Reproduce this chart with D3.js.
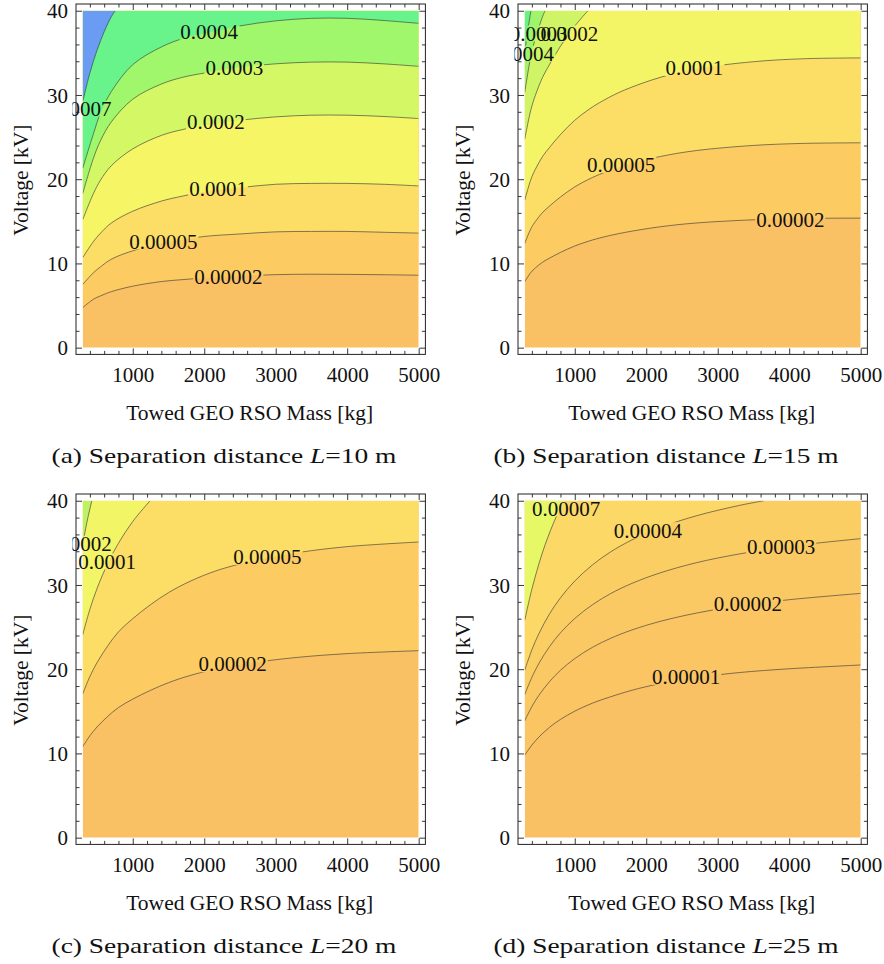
<!DOCTYPE html>
<html><head><meta charset="utf-8">
<script src="https://cdn.jsdelivr.net/npm/d3@7/dist/d3.min.js"></script>
<style>
body{margin:0;background:#fff}
text{font-family:"Liberation Serif","Times New Roman",serif;fill:#111}
</style>
</head><body>
<svg id="c" width="884" height="964"></svg>
<script>
// ---------- data ----------
const massDomain = [300, 5000];
const voltDomain = [0, 40];
const massTicks = [1000, 2000, 3000, 4000, 5000];
const voltTicks = [0, 10, 20, 30, 40];
const xTitle = "Towed GEO RSO Mass [kg]";
const yTitle = "Voltage [kV]";
const captionLetters = ["a", "b", "c", "d"];
const separations = [10, 15, 20, 25];

// Panel (a) L = 10 m : contour lines [mass, voltage]
const levelsA = ["0.00002","0.00005","0.0001","0.0002","0.0003","0.0004","0.0007"];
const linesA = [
  [[300,4.75],[450,5.75],[550,6.15],[700,6.65],[1000,7.3],[1400,7.85],[1700,8.08],[2000,8.27],[2500,8.5],[3000,8.67],[3500,8.72],[4000,8.7],[4500,8.66],[5000,8.6]],
  [[300,7.5],[450,8.9],[550,9.6],[700,10.5],[1000,11.5],[1400,12.4],[1700,12.8],[2000,13.2],[2500,13.5],[3000,13.75],[3500,13.8],[4000,13.8],[4500,13.7],[5000,13.6]],
  [[300,10.7],[450,12.6],[550,13.6],[700,14.8],[1000,16.2],[1400,17.4],[1700,18.0],[2000,18.5],[2500,19.0],[3000,19.4],[3500,19.5],[4000,19.5],[4500,19.4],[5000,19.2]],
  [[300,15.2],[450,18.3],[550,19.9],[700,21.6],[1000,23.6],[1400,25.2],[1700,25.9],[2000,26.4],[2500,27.0],[3000,27.4],[3500,27.6],[4000,27.6],[4500,27.45],[5000,27.2]],
  [[300,18.3],[450,22.5],[550,24.6],[700,26.8],[1000,29.5],[1400,31.3],[1700,32.1],[2000,32.6],[2500,33.3],[3000,33.7],[3500,33.9],[4000,33.9],[4500,33.7],[5000,33.4]],
  [[300,21.3],[450,25.4],[550,27.9],[700,30.4],[1000,33.6],[1400,35.7],[1700,36.7],[2000,37.3],[2500,38.2],[3000,38.8],[3500,39.1],[4000,39.1],[4500,38.85],[5000,38.5]],
  [[300,29.2],[400,32.6],[500,35.3],[600,37.5],[700,39.3],[755,40]]
];
const colorsA = ["#FAC064","#FCCC63","#FCDE66","#F5F566","#D4F766","#A0F76B","#68F48A","#6A9CF3"];
const labelsA = [["0.0007",298,28.4],["0.0004",2070,37.5],["0.0003",2420,33.2],["0.0002",2163,26.8],["0.0001",2193,18.9],["0.00005",1428,12.6],["0.00002",2337,8.43]];

// Panel (b) L = 15 m
const levelsB = ["0.00002","0.00005","0.0001","0.0002","0.0003","0.0004"];
const linesB = [
  [[300,7.83],[387,8.94],[450,9.48],[550,10.15],[650,10.64],[800,11.31],[1000,12.07],[1200,12.66],[1400,13.13],[1700,13.68],[2200,14.36],[2700,14.8],[3500,15.18],[4200,15.34],[5000,15.38]],
  [[300,12.37],[387,14.14],[450,14.99],[550,16.05],[650,16.83],[800,17.89],[1000,19.09],[1200,20.01],[1400,20.75],[1700,21.64],[2200,22.7],[2700,23.4],[3500,24.01],[4200,24.25],[5000,24.32]],
  [[300,17.5],[387,20.0],[450,21.2],[550,22.7],[650,23.8],[800,25.3],[1000,27.0],[1200,28.3],[1400,29.35],[1700,30.6],[2200,32.1],[2700,33.1],[3500,33.95],[4200,34.3],[5000,34.4]],
  [[300,24.75],[387,28.28],[450,29.98],[550,32.1],[650,33.66],[800,35.78],[1000,38.18],[1184,40]],
  [[300,30.31],[387,34.64],[450,36.72],[550,39.32],[585,40]],
  [[300,35.0],[340,37.5],[387,40]]
];
const colorsB = ["#FAC064","#FCCC63","#FCDE66","#F4F566","#CFF566","#9EF56C","#66F28A"];
const labelsB = [["0.0004",305,34.9],["0.0003",494,37.3],["0.0002",925,37.3],["0.0001",2675,33.2],["0.00005",1650,21.7],["0.00002",4015,15.2]];

// Panel (c) L = 20 m
const levelsC = ["0.00002","0.00005","0.0001","0.0002"];
const linesC = [
  [[300,10.8],[400,12.1],[500,13.14],[650,14.4],[800,15.45],[1000,16.45],[1250,17.5],[1500,18.4],[1800,19.25],[2200,20.1],[2700,20.8],[3300,21.4],[4000,21.85],[5000,22.2]],
  [[300,17.08],[400,19.13],[500,20.78],[650,22.77],[800,24.43],[1000,26.0],[1250,27.67],[1500,29.09],[1800,30.43],[2200,31.78],[2700,32.89],[3300,33.83],[4000,34.55],[5000,35.1]],
  [[300,24.1],[400,27.11],[500,29.57],[650,32.56],[800,34.96],[1000,37.54],[1242,40]],
  [[300,34.8],[360,37.5],[427,40]]
];
const colorsC = ["#FAC064","#FCCC63","#FCDE66","#F2F566","#BDF262"];
const labelsC = [["0.0002",301,34.9],["0.0001",641,32.8],["0.00005",2885,33.35],["0.00002",2396,20.6]];

// Panel (d) L = 25 m
const levelsD = ["0.00001","0.00002","0.00003","0.00004","0.00007"];
const linesD = [
  [[300,9.8],[400,10.99],[500,11.96],[650,13.12],[800,14.04],[1000,15.02],[1250,15.98],[1500,16.72],[1800,17.5],[2200,18.3],[2700,19.0],[3300,19.6],[4000,20.05],[5000,20.5]],
  [[300,13.87],[400,15.56],[500,16.92],[650,18.56],[800,19.87],[1000,21.26],[1250,22.61],[1500,23.66],[1800,24.66],[2200,25.69],[2700,26.66],[3300,27.52],[4000,28.25],[5000,29.0]],
  [[300,16.98],[400,19.04],[500,20.71],[650,22.72],[800,24.32],[1000,26.02],[1250,27.67],[1500,28.97],[1800,30.19],[2200,31.45],[2700,32.64],[3300,33.68],[4000,34.59],[5000,35.5]],
  [[300,19.88],[400,22.3],[500,24.25],[650,26.61],[800,28.48],[1000,30.47],[1250,32.4],[1500,33.92],[1800,35.35],[2200,36.83],[2700,38.21],[3300,39.44],[3643,40]],
  [[300,25.8],[400,29.5],[550,33.9],[700,37.3],[846,40]]
];
const colorsD = ["#FAC064","#FBC563","#FBC963","#FBCE63","#FCD866","#E6F866"];
const labelsD = [["0.00007",881,39.1],["0.00004",2022,36.5],["0.00003",3888,34.5],["0.00002",3423,27.8],["0.00001",2559,19.1]];

const panels = [
  {levels: levelsA, lines: linesA, colors: colorsA, labels: labelsA},
  {levels: levelsB, lines: linesB, colors: colorsB, labels: labelsB},
  {levels: levelsC, lines: linesC, colors: colorsC, labels: labelsC},
  {levels: levelsD, lines: linesD, colors: colorsD, labels: labelsD}
];

// ---------- layout ----------
const FW = 349.4, FH = 350.4;
const origins = [[76,4],[518,4],[76,494],[518,494]];
const FONT = 21;

const svg = d3.select("#c");
const defs = svg.append("defs");
const xPad = 0.02 * (massDomain[1] - massDomain[0]);
const yPad = 0.02 * (voltDomain[1] - voltDomain[0]);

panels.forEach((p, i) => {
  const [fx, fy] = origins[i];
  const x = d3.scaleLinear().domain([massDomain[0] - xPad, massDomain[1] + xPad]).range([fx, fx + FW]);
  const y = d3.scaleLinear().domain([voltDomain[0] - yPad, voltDomain[1] + yPad]).range([fy + FH, fy]);
  const x0 = x(massDomain[0]), x1 = x(massDomain[1]), yT = y(voltDomain[1]), yB = y(voltDomain[0]);

  defs.append("clipPath").attr("id", "dc" + i).append("rect")
    .attr("x", x0).attr("y", yT).attr("width", x1 - x0).attr("height", yB - yT);
  defs.append("clipPath").attr("id", "lc" + i).append("rect")
    .attr("x", fx - 3.5).attr("y", fy).attr("width", FW + 40).attr("height", FH);

  const g = svg.append("g");
  const fillG = g.append("g").attr("clip-path", `url(#dc${i})`);
  fillG.append("rect").attr("x", x0).attr("y", yT).attr("width", x1 - x0).attr("height", yB - yT)
    .attr("fill", p.colors[0]);

  const line = d3.line().x(d => x(d[0])).y(d => y(d[1])).curve(d3.curveCatmullRom.alpha(0.5));
  p.lines.forEach((pts, k) => {
    const last = pts[pts.length - 1];
    let d = line(pts);
    if (last[1] < voltDomain[1]) d += `L${x(massDomain[1])},${y(voltDomain[1])}`;
    d += `L${x(massDomain[0])},${y(voltDomain[1])}Z`;
    fillG.append("path").attr("d", d).attr("fill", p.colors[k + 1]);
  });

  // labels
  const labG = g.append("g").attr("clip-path", `url(#lc${i})`);
  const mask = defs.append("mask").attr("id", "mk" + i).attr("maskUnits", "userSpaceOnUse")
    .attr("x", 0).attr("y", 0).attr("width", 884).attr("height", 964);
  mask.append("rect").attr("x", 0).attr("y", 0).attr("width", 884).attr("height", 964).attr("fill", "#fff");

  const lineOuter = g.insert("g", () => labG.node()).attr("clip-path", `url(#dc${i})`);
  const lineG = lineOuter.append("g").attr("mask", `url(#mk${i})`);

  p.labels.forEach(([t, m, v]) => {
    const tx = labG.append("text").attr("x", x(m)).attr("y", y(v)).attr("dy", "0.35em")
      .attr("text-anchor", "middle").attr("font-size", FONT).text(t);
    const bb = tx.node().getBBox();
    mask.append("rect").attr("x", bb.x - 1).attr("y", y(v) - 8).attr("width", bb.width + 2).attr("height", 16).attr("fill", "#000");
  });

  p.lines.forEach(pts => {
    lineG.append("path").attr("d", line(pts)).attr("fill", "none")
      .attr("stroke", "#3a3a3a").attr("stroke-opacity", 0.7).attr("stroke-width", 0.9);
  });

  // axes / frame
  const minorX = d3.range(400, 5001, 200).filter(v => v % 1000 !== 0);
  const minorY = d3.range(2, 40, 2).filter(v => v % 10 !== 0);
  const axG = svg.append("g").attr("color", "#222");
  const bottom = axG.append("g").attr("transform", `translate(0,${fy + FH})`)
    .call(d3.axisBottom(x).tickValues(massTicks).tickSize(-6).tickFormat(d3.format("d")));
  bottom.selectAll("text").attr("y", 27.6).attr("dy", null).attr("font-size", FONT)
    .attr("font-family", "Liberation Serif").attr("fill", "#111");
  axG.append("g").attr("transform", `translate(0,${fy + FH})`)
    .call(d3.axisBottom(x).tickValues(minorX).tickSize(-3.5).tickFormat(""));
  axG.append("g").attr("transform", `translate(0,${fy})`)
    .call(d3.axisTop(x).tickValues(massTicks).tickSize(-6).tickFormat(""));
  axG.append("g").attr("transform", `translate(0,${fy})`)
    .call(d3.axisTop(x).tickValues(minorX).tickSize(-3.5).tickFormat(""));
  const left = axG.append("g").attr("transform", `translate(${fx},0)`)
    .call(d3.axisLeft(y).tickValues(voltTicks).tickSize(-6).tickPadding(8).tickFormat(d3.format("d")));
  left.selectAll("text").attr("dy", "0.34em").attr("font-size", FONT)
    .attr("font-family", "Liberation Serif").attr("fill", "#111");
  axG.append("g").attr("transform", `translate(${fx},0)`)
    .call(d3.axisLeft(y).tickValues(minorY).tickSize(-3.5).tickFormat(""));
  axG.append("g").attr("transform", `translate(${fx + FW},0)`)
    .call(d3.axisRight(y).tickValues(voltTicks).tickSize(-6).tickFormat(""));
  axG.append("g").attr("transform", `translate(${fx + FW},0)`)
    .call(d3.axisRight(y).tickValues(minorY).tickSize(-3.5).tickFormat(""));
  axG.selectAll(".domain").remove();
  axG.selectAll(".tick line").attr("stroke-width", 0.9);
  axG.append("rect").attr("x", fx).attr("y", fy).attr("width", FW).attr("height", FH)
    .attr("fill", "none").attr("stroke", "#222").attr("stroke-width", 1);

  // titles
  svg.append("text").attr("x", fx + FW / 2 - 1).attr("y", fy + FH + 66)
    .attr("text-anchor", "middle").attr("font-size", 21.5).text(xTitle);
  svg.append("text").attr("transform", `translate(${fx - 48},${fy + FH / 2 + 1}) rotate(-90)`)
    .attr("text-anchor", "middle").attr("font-size", 21.5).text(yTitle);

  // caption
  const cap = svg.append("text").attr("x", fx + 148).attr("y", fy + 459)
    .attr("text-anchor", "middle").attr("font-size", 22)
    .attr("textLength", 345).attr("lengthAdjust", "spacingAndGlyphs");
  cap.append("tspan").text(`(${captionLetters[i]}) Separation distance `);
  cap.append("tspan").attr("font-style", "italic").text("L");
  cap.append("tspan").text(`=${separations[i]} m`);
});
</script>
</body></html>
